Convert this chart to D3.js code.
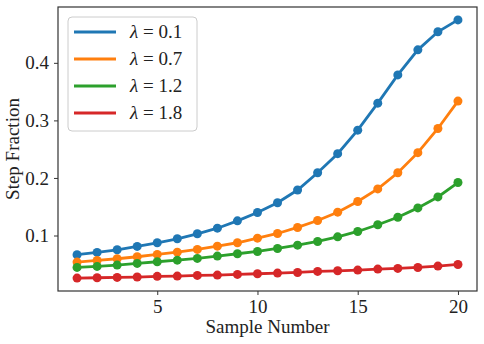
<!DOCTYPE html>
<html>
<head>
<meta charset="utf-8">
<script src="https://cdn.jsdelivr.net/npm/d3@7"></script>
<style>
  body { margin: 0; background: #fff; }
  text { font-family: "Liberation Serif", "DejaVu Serif", serif; fill: #222; }
</style>
</head>
<body>
<svg id="drawing_region"></svg>
<script>
const samples = d3.range(1, 21);
const lambdas = ["0.1", "0.7", "1.2", "1.8"];
const colors = ["#1f77b4", "#ff7f0e", "#2ca02c", "#d62728"];

const lam01 = [0.0666, 0.0706, 0.0752, 0.081, 0.0874, 0.0943, 0.103, 0.1127, 0.1255, 0.140,
               0.157, 0.179, 0.209, 0.2422, 0.283, 0.330, 0.379, 0.4226, 0.454, 0.4746];
const lam07 = [0.0538, 0.0567, 0.0596, 0.0631, 0.0671, 0.0711, 0.0758, 0.0815, 0.0874, 0.0954,
               0.1035, 0.114, 0.126, 0.1405, 0.159, 0.181, 0.209, 0.244, 0.286, 0.3336];
const lam12 = [0.0446, 0.0463, 0.0486, 0.0515, 0.0544, 0.0572, 0.0602, 0.0642, 0.0683, 0.0723,
               0.0775, 0.0832, 0.0896, 0.0977, 0.107, 0.1186, 0.1318, 0.148, 0.167, 0.192];
const lam18 = [0.026, 0.0266, 0.0272, 0.0278, 0.029, 0.0295, 0.0307, 0.0312, 0.0324, 0.0335,
               0.0347, 0.0358, 0.0376, 0.0387, 0.0399, 0.0416, 0.0428, 0.0445, 0.0468, 0.0497];

const xTicks = [5, 10, 15, 20];
const yTicks = [0.1, 0.2, 0.3, 0.4];

const series = [lam01, lam07, lam12, lam18].map((vals, i) => ({
  label: lambdas[i],
  color: colors[i],
  points: vals.map((v, j) => ({x: samples[j], y: v}))
}));

const width = 484, height = 344;
const margin = {top: 7, right: 7, bottom: 53, left: 58};
const iw = width - margin.left - margin.right;
const ih = height - margin.top - margin.bottom;

const svg = d3.select("#drawing_region").attr("width", width).attr("height", height);
const chart = svg.append("g").attr("transform", `translate(${margin.left},${margin.top})`);

// matplotlib style 5% margins
const allY = series.flatMap(s => s.points.map(p => p.y));
const ymin = d3.min(allY), ymax = d3.max(allY);
const ypad = (ymax - ymin) * 0.05;
const xscale = d3.scaleLinear().domain([1 - 0.95, 20 + 0.95]).range([0, iw]);
const yscale = d3.scaleLinear().domain([ymin - ypad, ymax + ypad]).range([ih, 0]);

const xaxis = d3.axisBottom(xscale).tickValues(xTicks).tickSize(4).tickPadding(5).tickFormat(d3.format("d"));
const yaxis = d3.axisLeft(yscale).tickValues(yTicks).tickSize(4).tickPadding(5).tickFormat(d3.format(".1f"));

const xg = chart.append("g").attr("transform", `translate(0,${ih})`).call(xaxis);
const yg = chart.append("g").call(yaxis);
[xg, yg].forEach(g => {
  g.select(".domain").remove();
  g.selectAll(".tick line").attr("stroke", "#333").attr("stroke-width", 1);
  g.selectAll(".tick text").style("font-size", "19px").attr("fill", "#222");
});

// frame
chart.append("rect").attr("width", iw).attr("height", ih)
  .attr("fill", "none").attr("stroke", "#333").attr("stroke-width", 1.2);

const line = d3.line().x(d => xscale(d.x)).y(d => yscale(d.y));

series.forEach(s => {
  chart.append("path").attr("d", line(s.points))
    .attr("fill", "none").attr("stroke", s.color).attr("stroke-width", 2.8);
  chart.selectAll(null).data(s.points).enter().append("circle")
    .attr("cx", d => xscale(d.x)).attr("cy", d => yscale(d.y))
    .attr("r", 4.5).attr("fill", s.color);
});

// axis labels
svg.append("text").attr("x", margin.left + iw / 2).attr("y", 333)
  .attr("text-anchor", "middle").style("font-size", "19px").text("Sample Number");
svg.append("text").attr("transform", `translate(19,${margin.top + ih / 2}) rotate(-90)`)
  .attr("text-anchor", "middle").style("font-size", "19px").text("Step Fraction");

// legend
const legend = svg.append("g").attr("transform", "translate(68,17)");
legend.append("rect").attr("width", 129).attr("height", 114).attr("rx", 4)
  .attr("fill", "#fff").attr("fill-opacity", 0.8).attr("stroke", "#ccc");
series.forEach((s, i) => {
  const ly = 15 + i * 27;
  legend.append("line").attr("x1", 6).attr("x2", 48).attr("y1", ly).attr("y2", ly)
    .attr("stroke", s.color).attr("stroke-width", 2.8);
  const t = legend.append("text").attr("x", 62).attr("y", ly + 6).style("font-size", "19px");
  t.append("tspan").style("font-style", "italic").text("λ");
  t.append("tspan").text(" = " + s.label);
});
</script>
</body>
</html>
